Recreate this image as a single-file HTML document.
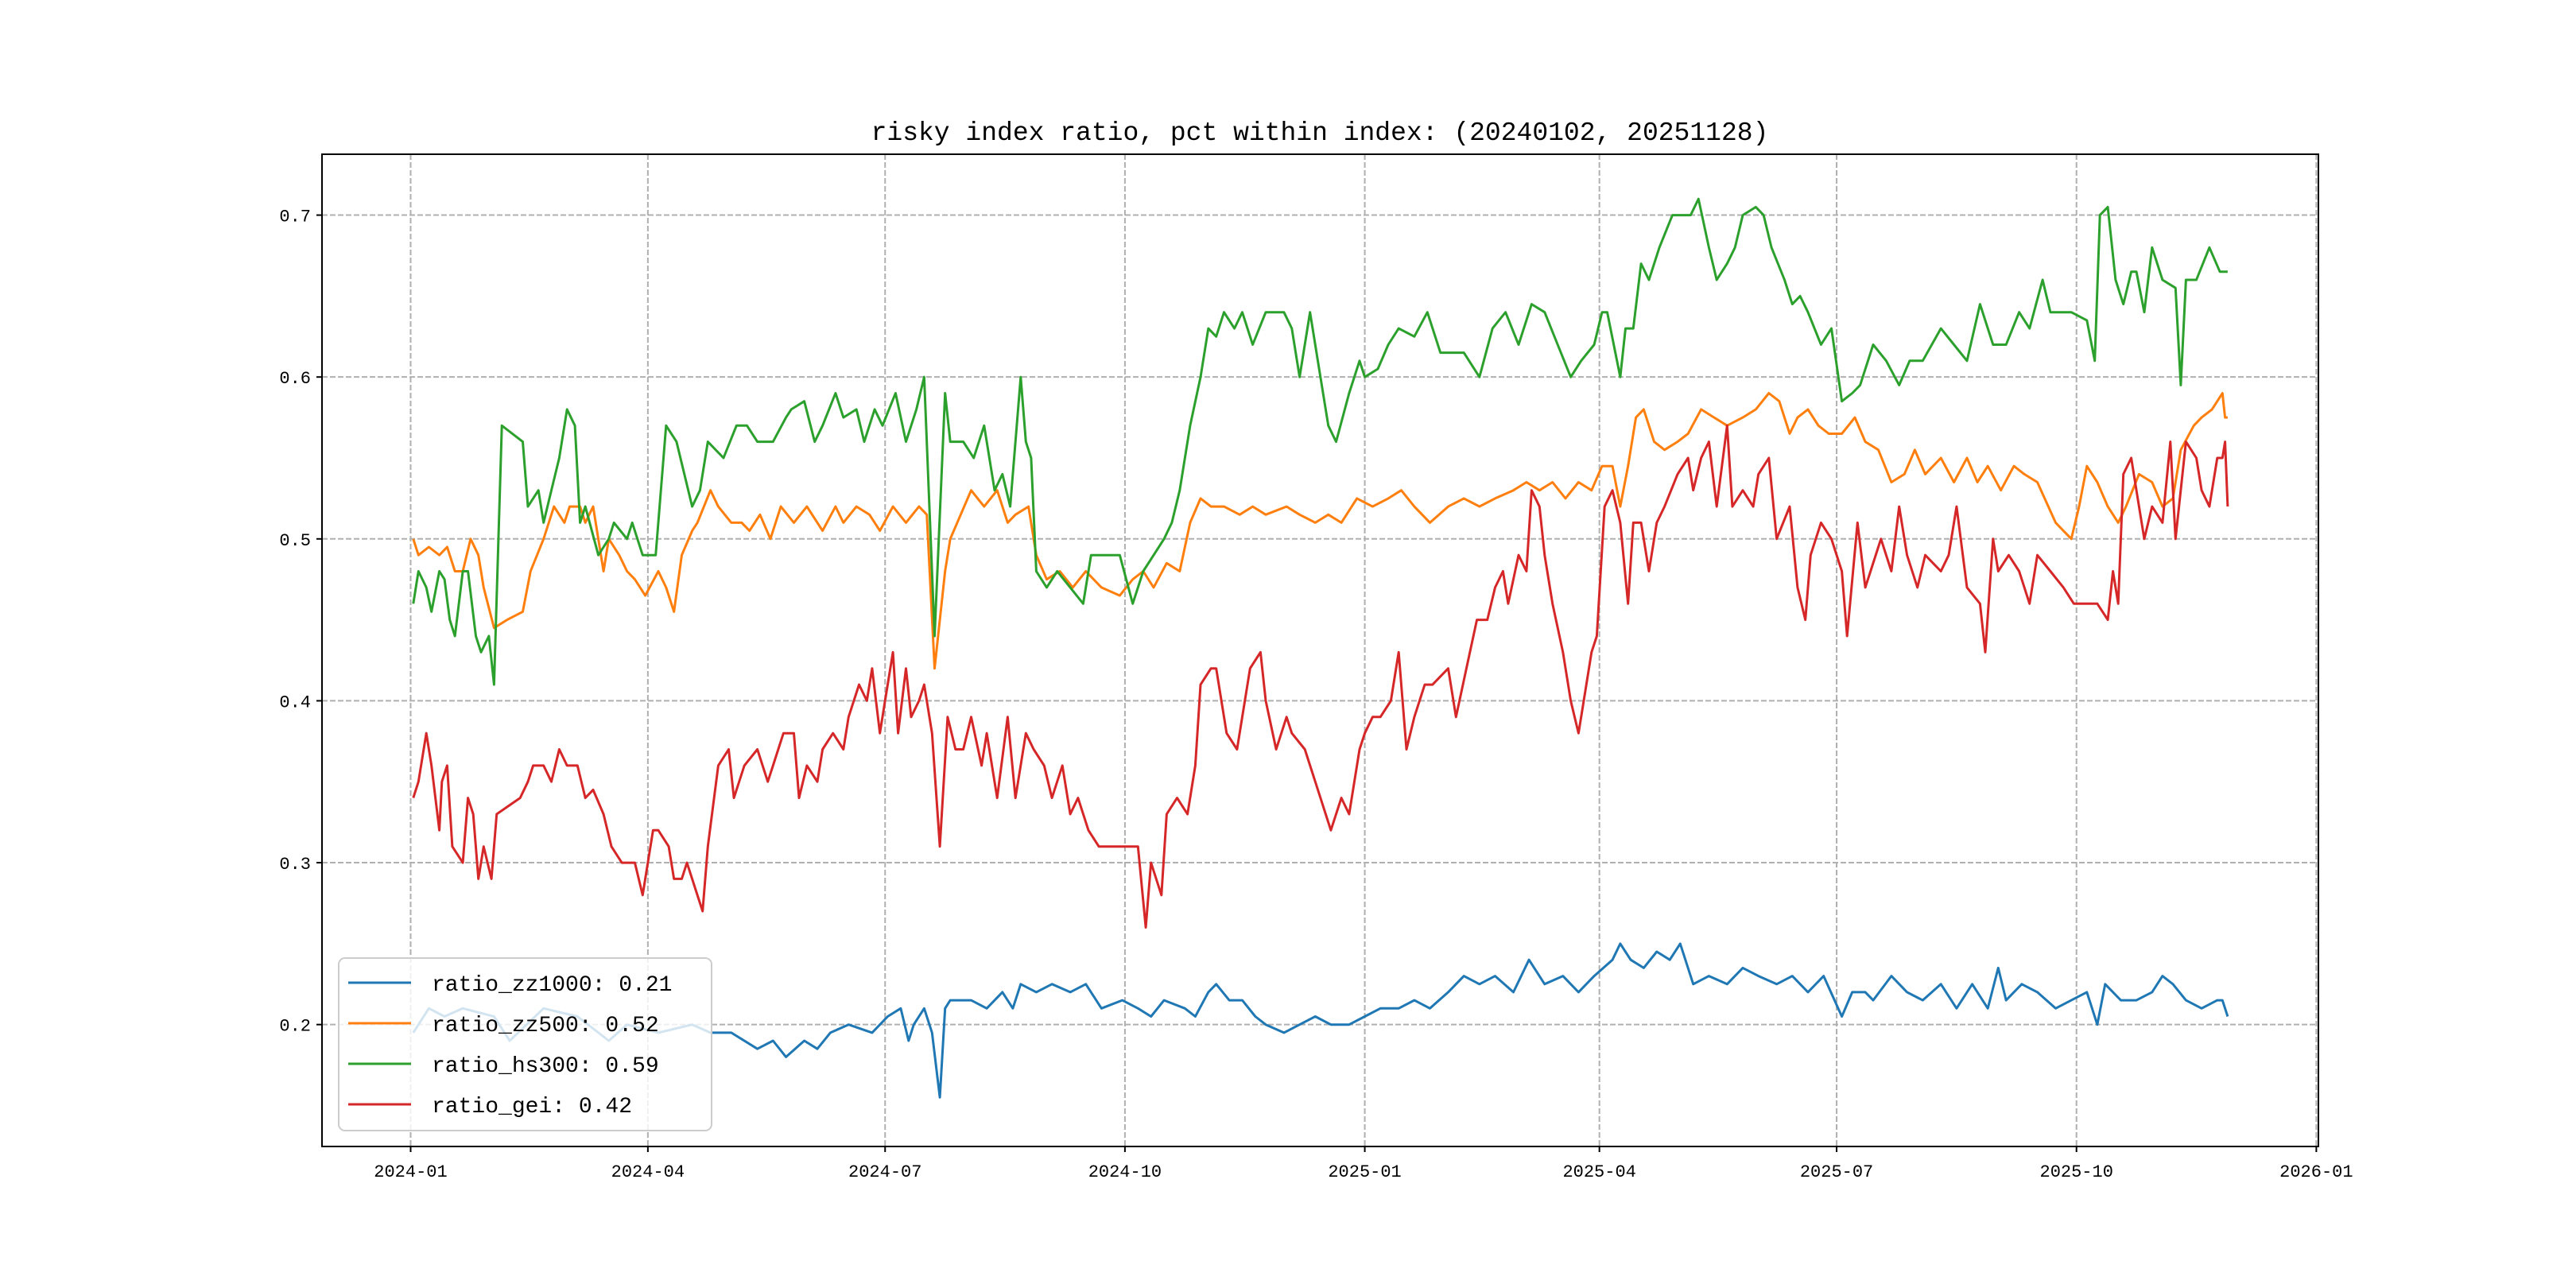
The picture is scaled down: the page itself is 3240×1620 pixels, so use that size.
<!DOCTYPE html>
<html><head><meta charset="utf-8"><style>
html,body{margin:0;padding:0;background:#fff;}
svg{display:block;}
text{font-family:"Liberation Mono","DejaVu Sans Mono",monospace;fill:#000;}
</style></head><body>
<svg id="chart" width="3240" height="1620" viewBox="0 0 3240 1620" xmlns="http://www.w3.org/2000/svg">
<rect width="3240" height="1620" fill="#fff"/>
<g id="grid"></g>
<g id="series"></g>
<rect x="405" y="194" width="2511" height="1248" fill="none" stroke="#000" stroke-width="2"/>
<g id="xticks"></g>
<g id="yticks"></g>
<text x="1660" y="176" text-anchor="middle" font-size="33">risky index ratio, pct within index: (20240102, 20251128)</text>
<g id="legend"></g>
</svg>
<script>
// days since 2024-01-01
const hsDays=[1,3,6,8,11,13,15,17,20,22,25,27,30,32,35,43,45,49,51,54,57,60,63,65,67,72,76,78,83,85,89,94,98,102,108,111,114,120,125,129,133,139,144,146,151,155,158,163,166,171,174,178,181,186,190,194,197,201,205,207,212,216,220,224,227,230,234,236,238,240,244,248,253,258,261,265,272,277,281,285,289,292,295,299,303,306,309,312,316,319,323,328,335,338,341,345,348,352,355,360,364,366,371,375,379,385,390,395,404,410,415,420,425,430,435,440,445,449,454,457,459,464,466,469,472,475,479,484,491,494,498,501,505,508,511,516,519,522,527,530,533,536,541,545,549,553,556,561,566,571,575,580,587,592,597,602,607,612,617,621,626,629,637,643,646,648,651,654,657,660,662,665,668,672,677,679,681,685,690,694,697];
const hsVals=[0.46,0.48,0.47,0.455,0.48,0.475,0.45,0.44,0.48,0.48,0.44,0.43,0.44,0.41,0.57,0.56,0.52,0.53,0.51,0.53,0.55,0.58,0.57,0.51,0.52,0.49,0.50,0.51,0.50,0.51,0.49,0.49,0.57,0.56,0.52,0.53,0.56,0.55,0.57,0.57,0.56,0.56,0.575,0.58,0.585,0.56,0.57,0.59,0.575,0.58,0.56,0.58,0.57,0.59,0.56,0.58,0.60,0.44,0.59,0.56,0.56,0.55,0.57,0.53,0.54,0.52,0.60,0.56,0.55,0.48,0.47,0.48,0.47,0.46,0.49,0.49,0.49,0.46,0.48,0.49,0.50,0.51,0.53,0.57,0.60,0.63,0.625,0.64,0.63,0.64,0.62,0.64,0.64,0.63,0.60,0.64,0.61,0.57,0.56,0.59,0.61,0.60,0.605,0.62,0.63,0.625,0.64,0.615,0.615,0.60,0.63,0.64,0.62,0.645,0.64,0.62,0.60,0.61,0.62,0.64,0.64,0.60,0.63,0.63,0.67,0.66,0.68,0.70,0.70,0.71,0.68,0.66,0.67,0.68,0.70,0.705,0.70,0.68,0.66,0.645,0.65,0.64,0.62,0.63,0.585,0.59,0.595,0.62,0.61,0.595,0.61,0.61,0.63,0.62,0.61,0.645,0.62,0.62,0.64,0.63,0.66,0.64,0.64,0.635,0.61,0.70,0.705,0.66,0.645,0.665,0.665,0.64,0.68,0.66,0.655,0.595,0.66,0.66,0.68,0.665,0.665];
const zz500Days=[1,3,7,11,14,17,20,23,26,28,32,37,43,46,51,55,59,61,65,67,70,74,76,80,83,86,90,95,98,101,104,108,110,115,118,123,127,130,134,138,142,147,152,158,163,166,171,176,180,185,190,195,198,201,205,207,215,220,225,229,232,237,240,244,249,254,259,265,272,277,281,285,290,295,299,303,307,312,318,323,328,336,341,347,352,357,363,369,375,380,385,391,398,404,410,416,423,428,433,438,443,448,453,457,461,464,467,470,473,477,481,486,490,495,500,505,511,516,521,525,529,532,536,540,544,549,554,558,563,568,573,577,581,587,592,597,601,605,610,615,619,624,631,637,640,643,647,651,655,658,663,668,672,676,679,684,687,691,695,696,697];
const zz500Vals=[0.50,0.49,0.495,0.49,0.495,0.48,0.48,0.50,0.49,0.47,0.445,0.45,0.455,0.48,0.50,0.52,0.51,0.52,0.52,0.51,0.52,0.48,0.50,0.49,0.48,0.475,0.465,0.48,0.47,0.455,0.49,0.505,0.51,0.53,0.52,0.51,0.51,0.505,0.515,0.50,0.52,0.51,0.52,0.505,0.52,0.51,0.52,0.515,0.505,0.52,0.51,0.52,0.515,0.42,0.48,0.50,0.53,0.52,0.53,0.51,0.515,0.52,0.49,0.475,0.48,0.47,0.48,0.47,0.465,0.475,0.48,0.47,0.485,0.48,0.51,0.525,0.52,0.52,0.515,0.52,0.515,0.52,0.515,0.51,0.515,0.51,0.525,0.52,0.525,0.53,0.52,0.51,0.52,0.525,0.52,0.525,0.53,0.535,0.53,0.535,0.525,0.535,0.53,0.545,0.545,0.52,0.545,0.575,0.58,0.56,0.555,0.56,0.565,0.58,0.575,0.57,0.575,0.58,0.59,0.585,0.565,0.575,0.58,0.57,0.565,0.565,0.575,0.56,0.555,0.535,0.54,0.555,0.54,0.55,0.535,0.55,0.535,0.545,0.53,0.545,0.54,0.535,0.51,0.50,0.52,0.545,0.535,0.52,0.51,0.52,0.54,0.535,0.52,0.525,0.555,0.57,0.575,0.58,0.59,0.575,0.575];
const geiDays=[1,3,6,8,11,12,14,16,20,22,24,26,28,31,33,42,45,47,51,54,57,60,64,67,70,74,77,81,86,89,93,95,99,101,104,106,112,114,118,122,124,128,133,137,139,143,147,149,152,156,158,162,166,168,172,175,177,180,182,185,187,190,192,195,197,200,203,206,209,212,215,219,221,225,229,232,236,239,243,246,250,253,256,260,264,270,279,282,284,288,290,294,298,301,303,307,309,313,317,322,326,328,332,336,338,343,347,351,353,357,360,364,366,369,372,376,379,382,385,389,392,398,401,405,409,413,416,419,421,425,428,430,433,435,438,442,445,448,450,453,455,458,461,464,467,469,472,475,478,481,486,490,492,495,498,501,505,507,511,515,517,521,524,529,532,535,537,541,545,549,551,555,558,560,564,568,571,574,578,581,587,590,593,597,602,604,607,609,613,617,621,624,629,634,638,647,651,653,655,657,660,662,665,668,672,675,677,681,685,687,690,693,695,696,697];
const geiVals=[0.34,0.35,0.38,0.36,0.32,0.35,0.36,0.31,0.30,0.34,0.33,0.29,0.31,0.29,0.33,0.34,0.35,0.36,0.36,0.35,0.37,0.36,0.36,0.34,0.345,0.33,0.31,0.30,0.30,0.28,0.32,0.32,0.31,0.29,0.29,0.30,0.27,0.31,0.36,0.37,0.34,0.36,0.37,0.35,0.36,0.38,0.38,0.34,0.36,0.35,0.37,0.38,0.37,0.39,0.41,0.40,0.42,0.38,0.40,0.43,0.38,0.42,0.39,0.40,0.41,0.38,0.31,0.39,0.37,0.37,0.39,0.36,0.38,0.34,0.39,0.34,0.38,0.37,0.36,0.34,0.36,0.33,0.34,0.32,0.31,0.31,0.31,0.26,0.30,0.28,0.33,0.34,0.33,0.36,0.41,0.42,0.42,0.38,0.37,0.42,0.43,0.40,0.37,0.39,0.38,0.37,0.35,0.33,0.32,0.34,0.33,0.37,0.38,0.39,0.39,0.40,0.43,0.37,0.39,0.41,0.41,0.42,0.39,0.42,0.45,0.45,0.47,0.48,0.46,0.49,0.48,0.53,0.52,0.49,0.46,0.43,0.40,0.38,0.40,0.43,0.44,0.52,0.53,0.51,0.46,0.51,0.51,0.48,0.51,0.52,0.54,0.55,0.53,0.55,0.56,0.52,0.57,0.52,0.53,0.52,0.54,0.55,0.50,0.52,0.47,0.45,0.49,0.51,0.50,0.48,0.44,0.51,0.47,0.48,0.50,0.48,0.52,0.49,0.47,0.49,0.48,0.49,0.52,0.47,0.46,0.43,0.50,0.48,0.49,0.48,0.46,0.49,0.48,0.47,0.46,0.46,0.45,0.48,0.46,0.54,0.55,0.53,0.50,0.52,0.51,0.56,0.50,0.56,0.55,0.53,0.52,0.55,0.55,0.56,0.52,0.53];
const zz1000Days=[1,7,13,20,32,38,51,64,76,83,95,108,115,123,133,139,144,151,156,161,168,177,183,188,191,193,197,200,203,205,207,215,221,227,231,234,240,246,253,259,265,273,279,284,289,297,301,306,309,314,319,324,328,335,341,347,353,360,366,372,379,385,391,398,404,410,416,423,429,435,442,448,454,461,464,468,473,478,483,487,492,498,505,511,517,524,530,536,542,549,553,558,561,568,574,580,587,593,599,605,609,612,618,624,631,637,643,647,650,656,662,668,672,676,681,687,693,695,697];
const zz1000Vals=[0.195,0.21,0.205,0.21,0.205,0.19,0.21,0.205,0.19,0.20,0.195,0.20,0.195,0.195,0.185,0.19,0.18,0.19,0.185,0.195,0.20,0.195,0.205,0.21,0.19,0.20,0.21,0.195,0.155,0.21,0.215,0.215,0.21,0.22,0.21,0.225,0.22,0.225,0.22,0.225,0.21,0.215,0.21,0.205,0.215,0.21,0.205,0.22,0.225,0.215,0.215,0.205,0.20,0.195,0.20,0.205,0.20,0.20,0.205,0.21,0.21,0.215,0.21,0.22,0.23,0.225,0.23,0.22,0.24,0.225,0.23,0.22,0.23,0.24,0.25,0.24,0.235,0.245,0.24,0.25,0.225,0.23,0.225,0.235,0.23,0.225,0.23,0.22,0.23,0.205,0.22,0.22,0.215,0.23,0.22,0.215,0.225,0.21,0.225,0.21,0.235,0.215,0.225,0.22,0.21,0.215,0.22,0.20,0.225,0.215,0.215,0.22,0.23,0.225,0.215,0.21,0.215,0.215,0.205];
const xTickLabels=["2024-01","2024-04","2024-07","2024-10","2025-01","2025-04","2025-07","2025-10","2026-01"];
const xTickDays=[0,91,182,274,366,456,547,639,731];
const yTickVals=[0.2,0.3,0.4,0.5,0.6,0.7];
const legendLabels=["ratio_zz1000: 0.21","ratio_zz500: 0.52","ratio_hs300: 0.59","ratio_gei: 0.42"];

const NS="http://www.w3.org/2000/svg";
const X0=405,X1=2916,Y0=194,Y1=1442;
const dMin=-34,dMax=731.8,vMin=0.1247,vMax=0.7376;
function xs(d){return X0+(d-dMin)/(dMax-dMin)*(X1-X0);}
function ys(v){return Y1-(v-vMin)/(vMax-vMin)*(Y1-Y0);}
function mk(tag,attrs,parent){const e=document.createElementNS(NS,tag);for(const k in attrs)e.setAttribute(k,attrs[k]);parent.appendChild(e);return e;}
const grid=document.getElementById('grid'),xt=document.getElementById('xticks'),yt=document.getElementById('yticks');
xTickDays.forEach((d,i)=>{
  const x=xs(d);
  const g=mk('line',{x1:x,x2:x,y1:Y0,y2:Y1,stroke:'#b0b0b0','stroke-width':2,'stroke-dasharray':'7,3'},grid);
  
  
  const t=mk('line',{x1:x,x2:x,y1:Y1,y2:Y1+7,stroke:'#000','stroke-width':2},xt);
  
  
  const l=mk('text',{x:x,y:Y1+38,'text-anchor':'middle','font-size':22},xt);
  l.textContent=xTickLabels[i];
  
  
});
yTickVals.forEach(v=>{
  const y=ys(v);
  const g=mk('line',{x1:X0,x2:X1,y1:y,y2:y,stroke:'#b0b0b0','stroke-width':2,'stroke-dasharray':'7,3'},grid);
  
  
  const t=mk('line',{x1:X0-7,x2:X0,y1:y,y2:y,stroke:'#000','stroke-width':2},yt);
  
  
  const l=mk('text',{x:X0-14,y:y+8,'text-anchor':'end','font-size':22},yt);
  l.textContent=v.toFixed(1);
  
  
});
const sg=document.getElementById('series');
const seriesList=[[zz1000Days,zz1000Vals,'#1f77b4','line-zz1000'],[zz500Days,zz500Vals,'#ff7f0e','line-zz500'],[hsDays,hsVals,'#2ca02c','line-hs300'],[geiDays,geiVals,'#d62728','line-gei']];
seriesList.forEach(s=>{
  const pts=s[0].map((d,i)=>xs(d).toFixed(1)+','+ys(s[1][i]).toFixed(1)).join(' ');
  const p=mk('polyline',{points:pts,fill:'none',stroke:s[2],'stroke-width':3,'stroke-linejoin':'round'},sg);
  
  
});
const lg=document.getElementById('legend');
const box=mk('rect',{x:426,y:1205,width:469,height:217,rx:8,fill:'#fff','fill-opacity':0.8,stroke:'#ccc','stroke-width':2},lg);


legendLabels.forEach((lab,i)=>{
  const y=1236+i*51;
  const ln=mk('line',{x1:438,x2:517,y1:y,y2:y,stroke:seriesList[i][2],'stroke-width':3},lg);
  
  
  const t=mk('text',{x:543,y:y+10,'font-size':28},lg);
  t.textContent=lab;
  
  
});
</script>
</body></html>
